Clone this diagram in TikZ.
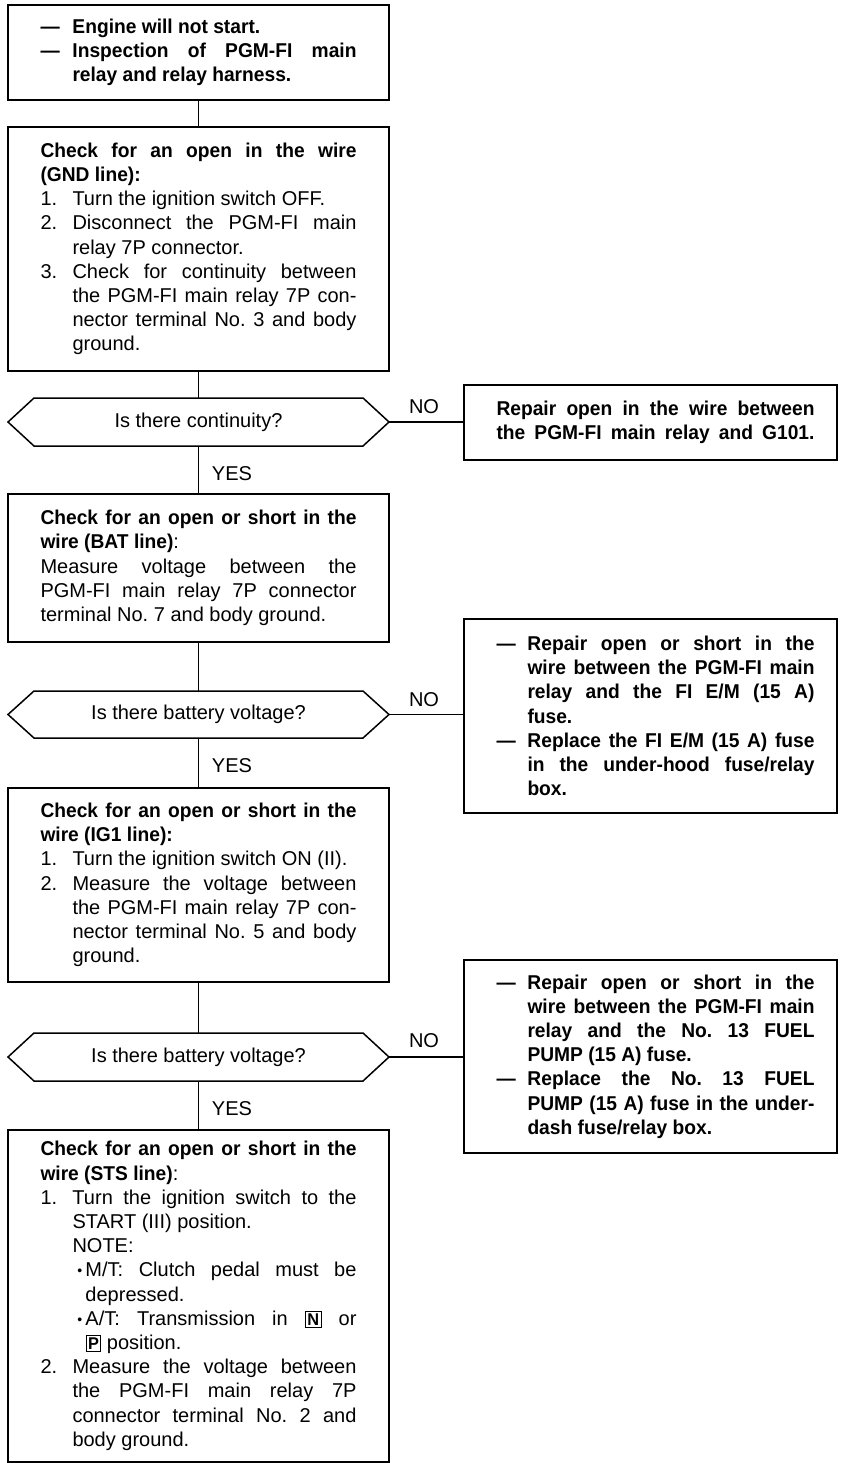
\documentclass[tikz,border=0pt]{standalone}
\usepackage{fontspec}
\setmainfont{Liberation Sans}[BoldFeatures={FakeStretch=0.96}]
\usetikzlibrary{calc}
\newcommand\hitem[2]{\par\hangindent=32pt\hangafter=1\noindent\makebox[32pt][l]{#1}#2}
\newcommand\ritem[2]{\par\hangindent=31pt\hangafter=1\noindent\makebox[31pt][l]{#1}#2}
\newcommand\bitem[1]{\par\hangindent=45pt\hangafter=1\noindent\hspace*{37pt}\makebox[8pt][l]{\raisebox{1pt}{\fontsize{14}{14}\selectfont •}}#1}
\newcommand\kbox[1]{{\setlength\fboxsep{1.5pt}\setlength\fboxrule{1pt}\fbox{\fontsize{17}{17}\selectfont\bfseries #1}}}
\newcommand\settext{\tolerance=10000\hbadness=10000\parindent=0pt}
\newenvironment{lbody}{\begin{minipage}{316pt}\settext}{\end{minipage}}
\newenvironment{rbody}{\hspace*{10pt}\begin{minipage}{318pt}\settext\bfseries}{\end{minipage}}
\newcommand\hexpath[1]{\draw[hexline] (#1.west) -- ([xshift=26pt]#1.north west) -- ([xshift=-26pt]#1.north east) -- (#1.east) -- ([xshift=-26pt]#1.south east) -- ([xshift=26pt]#1.south west) -- cycle;}
\begin{document}
\begin{tikzpicture}[x=1pt,y=-1pt, font=\fontsize{20}{24.2}\selectfont,
  box/.style={draw, line width=1.7pt, inner sep=0pt, outer sep=0pt},
  lbox/.style={box, minimum width=381pt},
  rbox/.style={box, minimum width=373pt},
  dec/.style={inner sep=0pt, outer sep=0pt, minimum width=381pt},
  hexline/.style={line width=1.5pt},
  conn/.style={line width=1.5pt},
  lbl/.style={inner sep=0pt}]
\path[use as bounding box] (0,0) rectangle (840,1463);

\node[lbox, minimum height=95pt] (b1) at (198.5,52.5) {\begin{lbody}\bfseries\hitem{—}{Engine will not start.}\hitem{—}{Inspection of PGM-FI main\linebreak relay and relay harness.}\end{lbody}};

\node[lbox, minimum height=244pt] (b2) at (198.5,249) {\begin{lbody}{\bfseries Check for an open in the wire\linebreak (GND line):}\hitem{1.}{Turn the ignition switch OFF.}\hitem{2.}{Disconnect the PGM-FI main\linebreak relay 7P connector.}\hitem{3.}{Check for continuity between\linebreak the PGM-FI main relay 7P con-\linebreak nector terminal No.~3 and body\linebreak ground.}\end{lbody}};

\node[dec, minimum height=48pt] (d1) at (198.5,422) {Is there continuity?};
\hexpath{d1}

\node[rbox, minimum height=75pt] (r1) at (650.5,422.5) {\begin{rbody}\parfillskip=0pt Repair open in the wire between\linebreak the PGM-FI main relay and G101.\end{rbody}};

\node[lbox, minimum height=148pt] (b3) at (198.5,568) {\begin{lbody}{\bfseries Check for an open or short in the\linebreak wire (BAT line)}:\par Measure voltage between the\linebreak PGM-FI main relay 7P connector\linebreak terminal No.~7 and body ground.\end{lbody}};

\node[dec, minimum height=47pt] (d2) at (198.5,714.5) {Is there battery voltage?};
\hexpath{d2}

\node[rbox, minimum height=194pt] (r2) at (650.5,716) {\begin{rbody}\ritem{—}{Repair open or short in the\linebreak wire between the PGM-FI main\linebreak relay and the FI E/M (15~A)\linebreak fuse.}\ritem{—}{Replace the FI E/M (15~A) fuse\linebreak in the under-hood fuse/relay\linebreak box.}\end{rbody}};

\node[lbox, minimum height=194pt] (b4) at (198.5,885) {\begin{lbody}{\bfseries Check for an open or short in the\linebreak wire (IG1 line):}\hitem{1.}{Turn the ignition switch ON (II).}\hitem{2.}{Measure the voltage between\linebreak the PGM-FI main relay 7P con-\linebreak nector terminal No.~5 and body\linebreak ground.}\end{lbody}};

\node[dec, minimum height=48pt] (d3) at (198.5,1057) {Is there battery voltage?};
\hexpath{d3}

\node[rbox, minimum height=193pt] (r3) at (650.5,1056.5) {\begin{rbody}\ritem{—}{Repair open or short in the\linebreak wire between the PGM-FI main\linebreak relay and the No.~13 FUEL\linebreak PUMP (15~A) fuse.}\ritem{—}{Replace the No.~13 FUEL\linebreak PUMP (15~A) fuse in the under-\linebreak dash fuse/relay box.}\end{rbody}};

\node[lbox, minimum height=332pt] (b5) at (198.5,1296) {\begin{lbody}{\bfseries Check for an open or short in the\linebreak wire (STS line)}:\hitem{1.}{Turn the ignition switch to the\linebreak START (III) position.\\ NOTE:}\bitem{M/T: Clutch pedal must be\linebreak depressed.}\bitem{A/T: Transmission in \kbox{N} or\linebreak \kbox{P} position.}\hitem{2.}{Measure the voltage between\linebreak the PGM-FI main relay 7P\linebreak connector terminal No.~2 and\linebreak body ground.}\end{lbody}};

\node[lbl] (no1) at (424,407) {NO};
\node[lbl] (yes1) at (232,474) {YES};
\node[lbl] (no2) at (424,700) {NO};
\node[lbl] (yes2) at (232,766) {YES};
\node[lbl] (no3) at (424,1041) {NO};
\node[lbl] (yes3) at (232,1109) {YES};

\draw[conn] (b1) -- (b2);
\draw[conn] (b2) -- (d1);
\draw[conn] (d1) -- (b3);
\draw[conn] (b3) -- (d2);
\draw[conn] (d2) -- (b4);
\draw[conn] (b4) -- (d3);
\draw[conn] (d3) -- (b5);
\draw[conn] (d1.east) -- (d1.east -| r1.west);
\draw[conn] (d2.east) -- (d2.east -| r2.west);
\draw[conn] (d3.east) -- (d3.east -| r3.west);
\end{tikzpicture}
\end{document}
